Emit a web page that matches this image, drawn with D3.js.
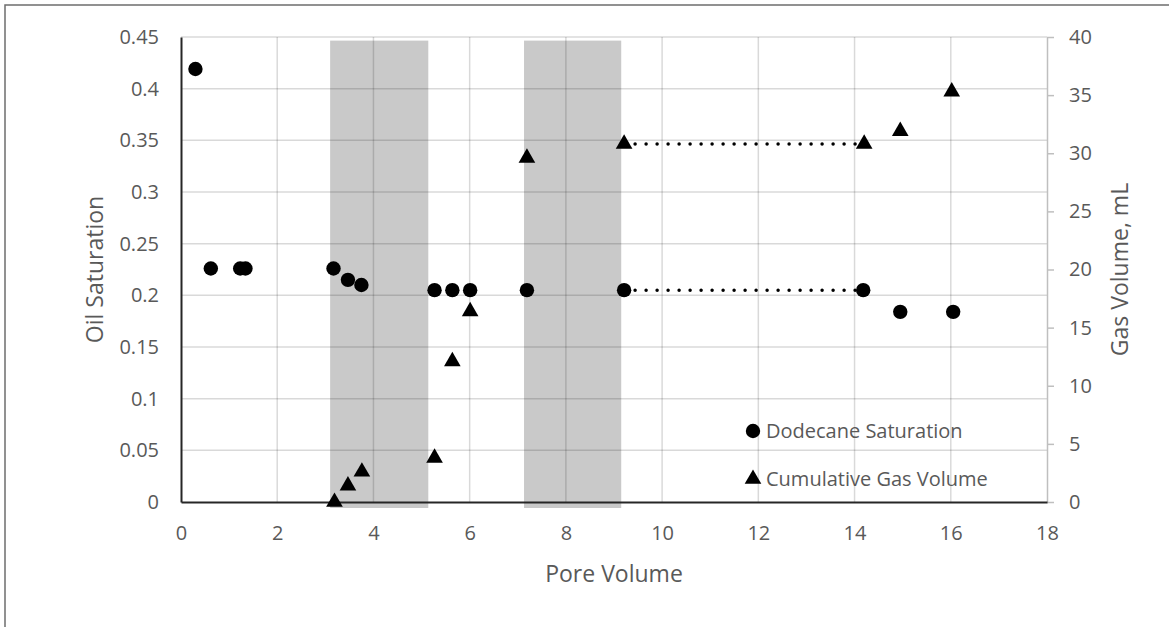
<!DOCTYPE html>
<html>
<head>
<meta charset="utf-8">
<script src="https://cdn.jsdelivr.net/npm/d3@7"></script>
<style>
  body { margin: 0; background: #fff; }
  svg { font-family: "Open Sans", sans-serif; }
</style>
</head>
<body>
<svg id="chart" width="1169" height="627"></svg>
<script>
// dodecane saturation (left axis)
const satPV = [0.3, 0.62, 1.23, 1.34, 3.17, 3.47, 3.75, 5.27, 5.64, 6.01, 7.19, 9.21, 14.18, 14.95, 16.05];
const satVal = [0.419, 0.226, 0.226, 0.226, 0.226, 0.215, 0.210, 0.205, 0.205, 0.205, 0.205, 0.205, 0.205, 0.184, 0.184];
// cumulative gas volume (right axis)
const gasPV = [3.19, 3.47, 3.76, 5.27, 5.64, 6.01, 7.19, 9.21, 14.2, 14.95, 16.02];
const gasVal = [0, 1.4, 2.6, 3.8, 12.1, 16.4, 29.6, 30.8, 30.8, 31.9, 35.3];
// dotted connections (pore volume start/end)
const satGap = [9.21, 14.18];
const gasGap = [9.21, 14.2];
// gas injection periods
const shadeStart = [3.1, 7.13];
const shadeEnd = [5.14, 9.15];

const xTicks = [0, 2, 4, 6, 8, 10, 12, 14, 16, 18];
const yTicks = [0, 0.05, 0.1, 0.15, 0.2, 0.25, 0.3, 0.35, 0.4, 0.45];
const y2Ticks = [0, 5, 10, 15, 20, 25, 30, 35, 40];

const plotL = 181, plotR = 1047, plotT = 37, plotB = 502;
const textCol = '#595959';
const tickFont = 20, titleFont = 23;

const svg = d3.select('#chart');
const x = d3.scaleLinear().domain([0, 18]).range([plotL, plotR]);
const y = d3.scaleLinear().domain([0, 0.45]).range([plotB, plotT]);
const y2 = d3.scaleLinear().domain([0, 40]).range([plotB, plotT]);

// outer frame (only top/left visible)
svg.append('path')
  .attr('d', `M5,627 V5 H1169`)
  .attr('fill', 'none')
  .attr('stroke', '#6e6e6e')
  .attr('stroke-width', 1.5);

// shaded periods
svg.append('g').selectAll('rect')
  .data(shadeStart)
  .join('rect')
  .attr('x', (d) => x(d))
  .attr('width', (d, i) => x(shadeEnd[i]) - x(d))
  .attr('y', y(0.4465))
  .attr('height', y(0) - y(0.4465) + 6)
  .attr('fill', '#c9c9c9');

// grid
const grid = svg.append('g').attr('stroke', 'rgba(0,0,0,0.15)').attr('stroke-width', 1.5);
grid.selectAll('.h')
  .data(yTicks.filter(d => d > 0))
  .join('line')
  .attr('class', 'h')
  .attr('x1', plotL).attr('x2', plotR)
  .attr('y1', d => y(d)).attr('y2', d => y(d));
grid.selectAll('.v')
  .data(xTicks.filter(d => d > 0 && d < 18))
  .join('line')
  .attr('class', 'v')
  .attr('y1', plotT).attr('y2', plotB)
  .attr('x1', d => x(d)).attr('x2', d => x(d));

// left axis
const yAxis = svg.append('g')
  .attr('transform', `translate(${plotL},0)`)
  .call(d3.axisLeft(y).tickValues(yTicks).tickSize(0).tickPadding(22).tickFormat(d3.format('')));
yAxis.select('.domain').attr('stroke', '#262626').attr('stroke-width', 2);
yAxis.selectAll('text').attr('fill', textCol).attr('font-size', tickFont).attr('font-family', '"Open Sans", sans-serif');

// right axis
const y2Axis = svg.append('g')
  .attr('transform', `translate(${plotR},0)`)
  .call(d3.axisRight(y2).tickValues(y2Ticks).tickSize(7).tickSizeOuter(0).tickPadding(15));
y2Axis.select('.domain').attr('stroke', '#bfbfbf').attr('stroke-width', 1.5);
y2Axis.selectAll('line').attr('stroke', '#bfbfbf').attr('stroke-width', 1.5);
y2Axis.selectAll('text').attr('fill', textCol).attr('font-size', tickFont).attr('font-family', '"Open Sans", sans-serif');

// bottom axis
const xAxis = svg.append('g')
  .attr('transform', `translate(0,${plotB})`)
  .call(d3.axisBottom(x).tickValues(xTicks).tickSize(0).tickPadding(24));
xAxis.select('.domain').attr('stroke', '#262626').attr('stroke-width', 2);
xAxis.selectAll('text').attr('fill', textCol).attr('font-size', tickFont).attr('font-family', '"Open Sans", sans-serif');

// axis titles
svg.append('text')
  .attr('transform', `translate(103,${(plotT + plotB) / 2}) rotate(-90)`)
  .attr('text-anchor', 'middle')
  .attr('fill', textCol).attr('font-size', titleFont)
  .text('Oil Saturation');
svg.append('text')
  .attr('transform', `translate(1128,${(plotT + plotB) / 2}) rotate(-90)`)
  .attr('text-anchor', 'middle')
  .attr('fill', textCol).attr('font-size', titleFont)
  .text('Gas Volume, mL');
svg.append('text')
  .attr('x', (plotL + plotR) / 2)
  .attr('y', 582)
  .attr('text-anchor', 'middle')
  .attr('fill', textCol).attr('font-size', titleFont)
  .text('Pore Volume');

// dotted lines
const dots = svg.append('g')
  .attr('stroke', '#000')
  .attr('stroke-width', 3.5)
  .attr('stroke-linecap', 'round')
  .attr('stroke-dasharray', '0 11');
dots.append('line')
  .attr('x1', x(satGap[0]) + 11).attr('x2', x(satGap[1]) - 6)
  .attr('y1', y(satVal[11])).attr('y2', y(satVal[12]));
dots.append('line')
  .attr('x1', x(gasGap[0]) + 11).attr('x2', x(gasGap[1]) - 6)
  .attr('y1', y2(gasVal[7])).attr('y2', y2(gasVal[8]));

// markers
const tri = d3.symbol().type(d3.symbolTriangle).size(120);
svg.append('g').selectAll('circle')
  .data(satPV)
  .join('circle')
  .attr('cx', d => x(d))
  .attr('cy', (d, i) => y(satVal[i]))
  .attr('r', 7.2)
  .attr('fill', '#000');
svg.append('g').selectAll('path')
  .data(gasPV)
  .join('path')
  .attr('d', tri)
  .attr('transform', (d, i) => `translate(${x(d)},${y2(gasVal[i])})`)
  .attr('fill', '#000');

// legend
const legend = svg.append('g').attr('transform', 'translate(753,431)');
legend.append('circle').attr('r', 7.2).attr('fill', '#000');
legend.append('text').attr('x', 13).attr('dy', '0.35em')
  .attr('fill', textCol).attr('font-size', tickFont).text('Dodecane Saturation');
legend.append('path').attr('d', tri).attr('transform', 'translate(0,48)').attr('fill', '#000');
legend.append('text').attr('x', 13).attr('y', 48).attr('dy', '0.35em')
  .attr('fill', textCol).attr('font-size', tickFont).text('Cumulative Gas Volume');
</script>
</body>
</html>
